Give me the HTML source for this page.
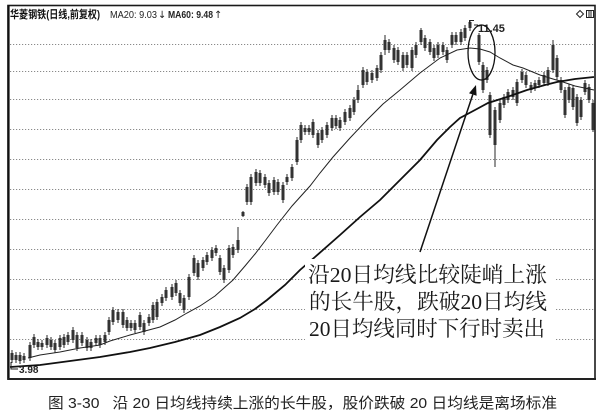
<!DOCTYPE html>
<html><head><meta charset="utf-8"><style>
html,body{margin:0;padding:0;background:#fff;}
svg{display:block;}
</style></head><body>
<svg width="606" height="417" viewBox="0 0 606 417" xmlns="http://www.w3.org/2000/svg">
<rect width="606" height="417" fill="#fff"/>
<!-- grid -->
<g stroke="#8a8a8a" stroke-width="1" stroke-dasharray="1.2 1.8">
<path d="M10 44.5H594M10 71.5H594M10 99.5H594M10 129.5H594M10 159.5H594M10 189.5H594M10 219.5H594M10 249.5H594M10 279.5H594M10 309.5H594M10 339.5H594"/>
</g>
<!-- frame -->
<rect x="8" y="5.5" width="587" height="373.5" fill="none" stroke="#1a1a1a" stroke-width="1.6"/>
<line x1="8.5" y1="5" x2="8.5" y2="380" stroke="#111" stroke-width="2.2"/>
<line x1="8" y1="379" x2="596" y2="379" stroke="#222" stroke-width="2"/>
<!-- header -->
<text x="10" y="18" font-family="'Liberation Sans','Noto Sans CJK SC',sans-serif" font-size="11" font-weight="bold" fill="#111" textLength="90" lengthAdjust="spacingAndGlyphs">华菱钢铁(日线,前复权)</text>
<text x="110" y="18" font-family="'Liberation Sans',sans-serif" font-size="10.5" fill="#222" textLength="47" lengthAdjust="spacingAndGlyphs">MA20: 9.03</text>
<text x="158" y="18" font-family="'DejaVu Sans',sans-serif" font-size="10" fill="#222">↓</text>
<text x="168" y="18" font-family="'Liberation Sans',sans-serif" font-size="10.5" font-weight="bold" fill="#222" textLength="45" lengthAdjust="spacingAndGlyphs">MA60: 9.48</text>
<text x="214" y="18" font-family="'DejaVu Sans',sans-serif" font-size="10" fill="#222">↑</text>
<!-- top-right icons -->
<polygon points="580,10.5 583.5,14 580,17.5 576.5,14" fill="none" stroke="#222" stroke-width="1"/>
<rect x="586.5" y="10.5" width="7" height="7" fill="none" stroke="#222" stroke-width="1"/>
<path d="M589 10.5V17.5M591 10.5V17.5" stroke="#222" stroke-width="1"/>
<!-- wicks -->
<path stroke="#2a2a2a" stroke-width="1" fill="none" d="M12 350V363M16 352V363M20 352V364M24 353V363M30 342V361M34 334V348M38 339V350M42 340V350M47 335V348M51 337V350M55 340V353M60 335V350M64 334V348M68 332V345M73 327V343M77 332V351M82 332V346M87 337V351M91 339V351M96 335V346M100 335V348M105 332V345M109 317V335M113 307V325M118 309V323M123 309V328M127 317V331M131 320V331M135 320V333M140 312V330M144 320V335M149 314V326M153 302V323M157 299V320M162 294V306M166 287V301M172 284V300M176 280V296M180 290V306M184 295V313M189 274V300M194 255V276M198 260V280M203 257V271M207 252V265M212 247V261M216 245V256M220 255V275M224 265V283M229 245V273M233 244V258M238 227V253M243 211V217M247 184V205M251 174V205M256 169V186M260 170V186M265 174V188M269 180V196M274 177V195M278 179V195M283 182V203M287 174V185M292 164V181M297 137V165M301 122V143M305 125V135M309 125V135M313 119V138M318 130V148M322 127V143M327 122V138M332 115V131M336 115V129M340 117V131M345 109V125M350 105V121M354 97V115M358 85V103M363 67V88M367 69V85M372 70V83M377 65V81M381 52V73M385 35V55M389 39V53M394 45V63M398 47V65M403 52V71M407 52V68M412 47V71M416 42V58M421 28V45M425 35V51M430 39V55M434 45V61M438 42V58M443 42V55M447 47V63M452 32V48M456 32V45M461 29V45M465 25V41M470 20V31M479 33V65M483 62V93M487 67V83M490 92V138M495 107V167M500 100V123M504 94V108M508 89V103M513 87V100M517 79V106M522 69V83M526 72V88M531 82V93M535 80V91M539 77V88M544 72V86M548 67V86M553 40V73M557 55V80M561 77V93M565 87V118M569 84V103M573 85V110M577 94V126M581 97V120M585 80V95M589 84V103M593 100V132"/>
<!-- bodies -->
<path fill="#333" d="M10.5 353h3v7h-3zM14.5 355h3v5h-3zM18.5 355h3v6h-3zM22.5 356h3v4h-3zM28.5 345h3v13h-3zM32.5 337h3v8h-3zM36.5 342h3v5h-3zM40.5 343h3v4h-3zM45.5 338h3v7h-3zM49.5 340h3v7h-3zM53.5 343h3v7h-3zM58.5 338h3v9h-3zM62.5 337h3v8h-3zM66.5 335h3v7h-3zM71.5 330h3v10h-3zM75.5 335h3v13h-3zM80.5 335h3v8h-3zM85.5 340h3v8h-3zM89.5 342h3v6h-3zM94.5 338h3v5h-3zM98.5 338h3v7h-3zM103.5 335h3v7h-3zM107.5 320h3v12h-3zM111.5 310h3v12h-3zM116.5 312h3v8h-3zM121.5 312h3v13h-3zM125.5 320h3v8h-3zM129.5 323h3v5h-3zM133.5 323h3v7h-3zM138.5 315h3v12h-3zM142.5 323h3v9h-3zM147.5 317h3v6h-3zM151.5 305h3v15h-3zM155.5 302h3v15h-3zM160.5 297h3v6h-3zM164.5 290h3v8h-3zM170.5 287h3v10h-3zM174.5 283h3v10h-3zM178.5 293h3v10h-3zM182.5 298h3v12h-3zM187.5 277h3v20h-3zM192.5 258h3v15h-3zM196.5 263h3v14h-3zM201.5 260h3v8h-3zM205.5 255h3v7h-3zM210.5 250h3v8h-3zM214.5 248h3v5h-3zM218.5 258h3v14h-3zM222.5 268h3v12h-3zM227.5 248h3v22h-3zM231.5 247h3v8h-3zM236.5 240h3v10h-3zM241.5 212h3v4h-3zM245.5 187h3v15h-3zM249.5 177h3v25h-3zM254.5 172h3v11h-3zM258.5 173h3v10h-3zM263.5 177h3v8h-3zM267.5 183h3v10h-3zM272.5 180h3v12h-3zM276.5 182h3v10h-3zM281.5 185h3v15h-3zM285.5 177h3v5h-3zM290.5 167h3v11h-3zM295.5 140h3v22h-3zM299.5 125h3v15h-3zM303.5 128h3v4h-3zM307.5 128h3v4h-3zM311.5 122h3v13h-3zM316.5 133h3v12h-3zM320.5 130h3v10h-3zM325.5 125h3v10h-3zM330.5 118h3v10h-3zM334.5 118h3v8h-3zM338.5 120h3v8h-3zM343.5 112h3v10h-3zM348.5 108h3v10h-3zM352.5 100h3v12h-3zM356.5 90h3v10h-3zM361.5 70h3v15h-3zM365.5 72h3v10h-3zM370.5 73h3v7h-3zM375.5 68h3v10h-3zM379.5 55h3v15h-3zM383.5 40h3v10h-3zM387.5 42h3v8h-3zM392.5 48h3v12h-3zM396.5 50h3v12h-3zM401.5 55h3v13h-3zM405.5 55h3v10h-3zM410.5 50h3v18h-3zM414.5 45h3v10h-3zM419.5 30h3v12h-3zM423.5 38h3v10h-3zM428.5 42h3v10h-3zM432.5 48h3v10h-3zM436.5 45h3v10h-3zM441.5 45h3v7h-3zM445.5 50h3v10h-3zM450.5 35h3v10h-3zM454.5 35h3v7h-3zM459.5 32h3v10h-3zM463.5 28h3v10h-3zM468.5 22h3v6h-3zM477.5 35h3v27h-3zM481.5 65h3v25h-3zM485.5 70h3v10h-3zM488.5 95h3v40h-3zM493.5 110h3v35h-3zM498.5 103h3v17h-3zM502.5 97h3v8h-3zM506.5 92h3v8h-3zM511.5 90h3v7h-3zM515.5 82h3v21h-3zM520.5 72h3v8h-3zM524.5 75h3v10h-3zM529.5 85h3v5h-3zM533.5 83h3v5h-3zM537.5 80h3v5h-3zM542.5 75h3v8h-3zM546.5 70h3v13h-3zM551.5 45h3v25h-3zM555.5 58h3v19h-3zM559.5 80h3v10h-3zM563.5 90h3v25h-3zM567.5 87h3v13h-3zM571.5 88h3v19h-3zM575.5 97h3v26h-3zM579.5 100h3v17h-3zM583.5 83h3v9h-3zM587.5 87h3v13h-3zM591.5 103h3v27h-3z"/>
<!-- MA20 thin -->
<polyline fill="none" stroke="#222" stroke-width="1" points="28,358 40,355 60,352 80,348 100,345 110,341 130,335 145,331 160,327 175,320 187,313 200,306 215,296 233,280 245,266 255,254 265,241 277,225 292,206 310,186 320,173 333,157 350,138 367,120 383,104 400,90 420,73 440,58 457,50 470,48 480,49 490,52 500,58 513,65 523,68 540,75 553,79 560,81 575,86 594,90"/>
<!-- MA60 thick -->
<polyline fill="none" stroke="#111" stroke-width="1.8" points="10,367 40,365 70,361 100,357 130,352 150,348 175,342 200,335 220,327 240,318 255,309 267,300 285,285 300,270 315,257 340,235 360,217 380,200 400,180 420,160 437,140 450,127 460,118 475,110 488,103 507,97 527,90 545,85 557,82 575,79 594,77"/>
<!-- low label -->
<path d="M11 362V369H18" fill="none" stroke="#222" stroke-width="1"/>
<text x="19" y="373" font-family="'Liberation Sans',sans-serif" font-size="10" font-weight="bold" fill="#222">3.98</text>
<!-- high label -->
<path d="M469.5 24V20.5H474M474 25H478" fill="none" stroke="#222" stroke-width="1"/>
<text x="478" y="32" font-family="'Liberation Sans',sans-serif" font-size="11" font-weight="bold" fill="#222">11.45</text>
<!-- ellipse -->
<ellipse cx="481.5" cy="52.5" rx="13.5" ry="27.5" fill="none" stroke="#111" stroke-width="1.3"/>
<!-- arrow -->
<line x1="420" y1="252" x2="472.8" y2="94.5" stroke="#111" stroke-width="1.5"/>
<polygon points="476,85 476.6,95.8 469,93.2" fill="#111"/>
<!-- annotation box -->
<rect x="305" y="259" width="251" height="85" fill="#fff"/>
<g font-family="'Liberation Serif','Noto Serif CJK SC',serif" font-size="21.5" fill="#1a1a1a">
<text x="308" y="282" textLength="239" lengthAdjust="spacingAndGlyphs">沿20日均线比较陡峭上涨</text>
<text x="309" y="309" textLength="238" lengthAdjust="spacingAndGlyphs">的长牛股，跌破20日均线</text>
<text x="309" y="336" textLength="236" lengthAdjust="spacingAndGlyphs">20日均线同时下行时卖出</text>
</g>
<!-- caption -->
<text x="48" y="408" font-family="'Liberation Sans','Noto Sans CJK SC',sans-serif" font-size="15" fill="#222" textLength="509" lengthAdjust="spacingAndGlyphs" xml:space="preserve">图 3-30   沿 20 日均线持续上涨的长牛股，股价跌破 20 日均线是离场标准</text>
</svg>
</body></html>
